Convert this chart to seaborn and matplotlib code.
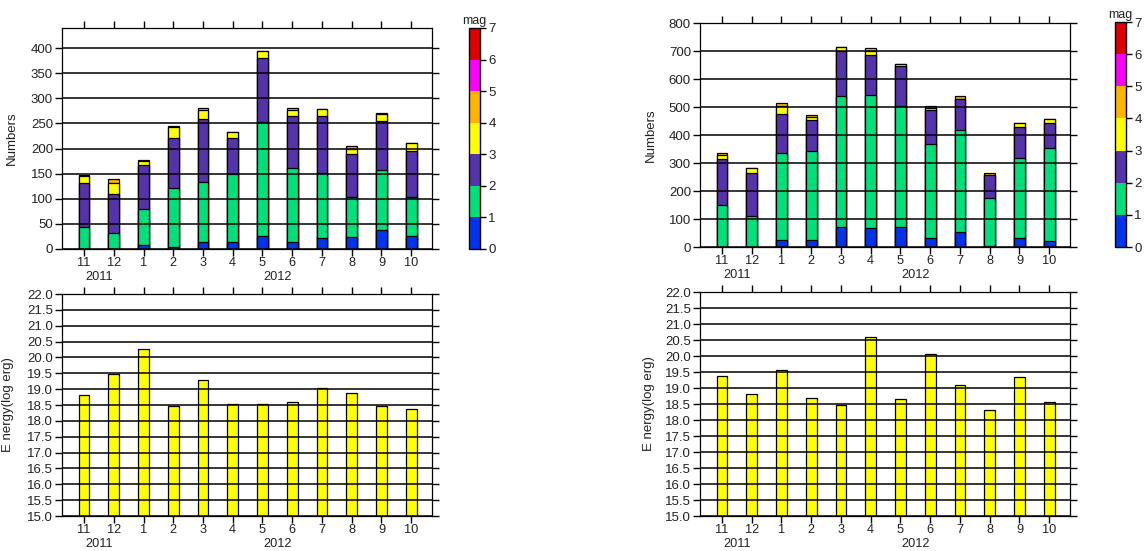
import numpy as np
import matplotlib
matplotlib.use("Agg")
import matplotlib.pyplot as plt
import matplotlib.transforms as mtrans
from matplotlib.colors import ListedColormap, BoundaryNorm
from matplotlib.cm import ScalarMappable
import seaborn as sns

sns.set_theme(style="ticks")
plt.rcParams['font.family'] = ['Liberation Sans', 'DejaVu Sans']

# ---------------- data ----------------
months = ['11', '12', '1', '2', '3', '4', '5', '6', '7', '8', '9', '10']
years = ['2011', '2012']
mag_colors = ['#0033ee', '#00e07a', '#5533aa', '#ffff00', '#ffb400', '#ff00ff', '#e00000']

# event counts per magnitude bin (0-1, 1-2, 2-3, 3-4, 4-5), left panel
left_m0 = [0, 0, 7, 4, 13, 13, 26, 13, 21, 24, 37, 26]
left_m1 = [43, 32, 73, 118, 121, 136, 227, 149, 130, 80, 120, 77]
left_m2 = [88, 77, 88, 99, 124, 72, 128, 102, 113, 85, 98, 92]
left_m3 = [15, 23, 7, 22, 18, 11, 13, 12, 14, 10, 14, 16]
left_m4 = [2, 7, 3, 1, 4, 0, 0, 4, 0, 6, 1, 0]

# right panel
right_m0 = [0, 0, 24, 24, 73, 67, 73, 33, 54, 4, 33, 20]
right_m1 = [151, 112, 312, 320, 466, 477, 432, 336, 365, 170, 286, 334]
right_m2 = [164, 151, 140, 108, 161, 142, 140, 121, 109, 83, 108, 88]
right_m3 = [13, 19, 29, 14, 13, 14, 10, 8, 2, 1, 15, 15]
right_m4 = [7, 0, 10, 6, 0, 10, 0, 7, 9, 5, 0, 0]

# released energy (log erg)
left_energy = [18.82, 19.49, 20.27, 18.48, 19.30, 18.53, 18.53, 18.60, 19.03, 18.87, 18.47, 18.36]
right_energy = [19.38, 18.82, 19.55, 18.70, 18.46, 20.61, 18.67, 20.06, 19.08, 18.32, 19.34, 18.57]

# ---------------- figure ----------------
fig = plt.figure(figsize=(11.46, 5.51), dpi=100)

ax_tl = fig.add_axes([0.0541, 0.5481, 0.3229, 0.4011])
ax_tr = fig.add_axes([0.6108, 0.5517, 0.3229, 0.4065])
ax_bl = fig.add_axes([0.0541, 0.0635, 0.3229, 0.4029])
ax_br = fig.add_axes([0.6108, 0.0635, 0.3229, 0.4065])
cax_l = fig.add_axes([0.4092, 0.5481, 0.0096, 0.4011])
cax_r = fig.add_axes([0.9730, 0.5517, 0.0096, 0.4083])

txt = '#222222'
fs = 9.5
fs_x = 9.2
bar_w = 0.36


def style_axes(ax):
    ax.set_xlim(-0.74, 11.7)
    ax.set_axisbelow(False)
    ax.yaxis.grid(True, color='black', linewidth=1.1)
    ax.xaxis.grid(False)
    for s in ax.spines.values():
        s.set_color('black')
        s.set_linewidth(0.9)
        s.set_visible(True)
    ax.tick_params(axis='x', which='both', direction='out', top=True, bottom=True,
                   length=5, width=1, color='black', labelsize=fs_x, labelcolor=txt, pad=1)
    ax.tick_params(axis='y', which='both', direction='out', left=True, right=True,
                   length=5, width=1, color='black', labelsize=fs, labelcolor=txt, pad=1.5)
    ax.set_xlabel('')
    # year labels under the month ticks
    off = mtrans.offset_copy(ax.get_xaxis_transform(), fig=fig, x=0, y=-28, units='dots')
    ax.text(0.5, 0, years[0], transform=off, ha='center', va='center', fontsize=fs_x, color=txt)
    ax.text(6.5, 0, years[1], transform=off, ha='center', va='center', fontsize=fs_x, color=txt)


def stacked(ax, parts):
    cum = np.cumsum(np.array(parts), axis=0)
    for i in range(len(parts) - 1, -1, -1):
        sns.barplot(x=months, y=cum[i], order=months, color=mag_colors[i], saturation=1,
                    width=bar_w, edgecolor='black', linewidth=0.9, ax=ax)


stacked(ax_tl, [left_m0, left_m1, left_m2, left_m3, left_m4])
ax_tl.set_ylim(0, 440)
ax_tl.set_yticks(np.arange(0, 401, 50))
style_axes(ax_tl)
ax_tl.set_ylabel('Numbers', fontsize=fs, color=txt)
ax_tl.yaxis.set_label_coords(-0.119, 0.5)

stacked(ax_tr, [right_m0, right_m1, right_m2, right_m3, right_m4])
ax_tr.set_ylim(0, 800)
ax_tr.set_yticks(np.arange(0, 801, 100))
style_axes(ax_tr)
ax_tr.set_ylabel('Numbers', fontsize=fs, color=txt)
ax_tr.yaxis.set_label_coords(-0.116, 0.5)

for ax, vals, lx in [(ax_bl, left_energy, -0.13), (ax_br, right_energy, -0.122)]:
    sns.barplot(x=months, y=vals, order=months, color='#ffff00', saturation=1,
                width=bar_w, edgecolor='black', linewidth=0.9, ax=ax)
    ax.set_ylim(15, 22)
    ax.set_yticks(np.arange(15, 22.01, 0.5))
    ax.set_yticklabels([f'{v:.1f}' for v in np.arange(15, 22.01, 0.5)])
    style_axes(ax)
    ax.set_ylabel('E nergy(log erg)', fontsize=fs, color=txt)
    ax.yaxis.set_label_coords(lx, 0.5)

# magnitude colour scales
cmap = ListedColormap(mag_colors)
norm = BoundaryNorm(np.arange(0, 8), cmap.N)
for cax in (cax_l, cax_r):
    cb = fig.colorbar(ScalarMappable(norm=norm, cmap=cmap), cax=cax, ticks=np.arange(0, 8))
    cb.outline.set_edgecolor('black')
    cb.outline.set_linewidth(1.0)
    cax.tick_params(direction='out', length=4, width=1, color='black',
                    labelsize=fs, labelcolor=txt, pad=2)
    cax.set_title('mag', fontsize=9, color=txt, pad=3)

fig.savefig('out.png', dpi=100)
